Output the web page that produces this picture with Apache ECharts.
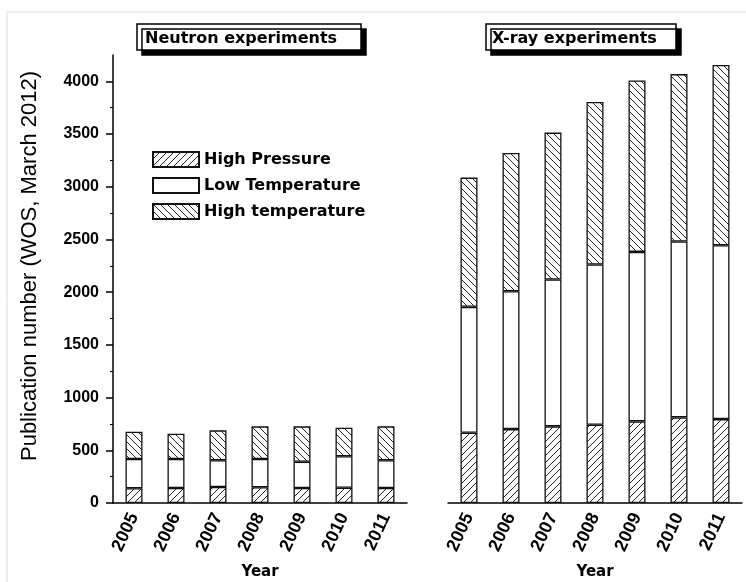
<!DOCTYPE html>
<html>
<head>
<meta charset="utf-8">
<script src="https://cdn.jsdelivr.net/npm/echarts@6/dist/echarts.min.js"></script>
<style>html,body{margin:0;padding:0;background:#fff}#c{width:746px;height:582px}</style>
</head>
<body>
<div id="c"></div>
<script>
// ---- data ----
const years = ['2005', '2006', '2007', '2008', '2009', '2010', '2011'];
const seriesNames = ['High Pressure', 'Low Temperature', 'High temperature'];
const neutronHP = [140, 142, 152, 150, 143, 145, 142];
const neutronLT = [277, 275, 253, 267, 248, 298, 263];
const neutronHT = [259, 240, 284, 310, 336, 271, 322];
const xrayHP = [666, 701, 727, 742, 774, 812, 796];
const xrayLT = [1195, 1308, 1393, 1521, 1608, 1669, 1649];
const xrayHT = [1226, 1311, 1394, 1541, 1627, 1588, 1710];
const yTickValues = [0, 500, 1000, 1500, 2000, 2500, 3000, 3500, 4000];
const panelTitles = ['Neutron experiments', 'X-ray experiments'];
const yAxisTitle = 'Publication number (WOS, March 2012)';
const xAxisTitle = 'Year';

function hatch(dir) {
  const s = 7;
  const c = document.createElement('canvas');
  c.width = s; c.height = s;
  const g = c.getContext('2d');
  g.fillStyle = '#fff'; g.fillRect(0, 0, s, s);
  g.strokeStyle = '#222'; g.lineWidth = 1;
  g.beginPath();
  if (dir > 0) {
    g.moveTo(0, s); g.lineTo(s, 0);
    g.moveTo(-1, 1); g.lineTo(1, -1);
    g.moveTo(s - 1, s + 1); g.lineTo(s + 1, s - 1);
  } else {
    g.moveTo(0, 0); g.lineTo(s, s);
    g.moveTo(s - 1, -1); g.lineTo(s + 1, 1);
    g.moveTo(-1, s - 1); g.lineTo(1, s + 1);
  }
  g.stroke();
  return c;
}
const fills = [
  { image: hatch(1), repeat: 'repeat' },
  '#ffffff',
  { image: hatch(-1), repeat: 'repeat' }
];

const chart = echarts.init(document.getElementById('c'), null, { renderer: 'canvas' });

const axisFont = { color: '#000', fontFamily: 'Liberation Sans', fontWeight: 'bold', fontSize: 16 };
const nameFont = { color: '#000', fontFamily: 'DejaVu Sans', fontWeight: 'bold', fontSize: 15 };
const lineStyle = { color: '#000', width: 1.5 };

function xAxis(i) {
  return {
    gridIndex: i, type: 'category', data: years,
    name: xAxisTitle, nameLocation: 'middle', nameGap: 62, nameTextStyle: nameFont,
    axisLine: { lineStyle: lineStyle },
    axisTick: { alignWithLabel: true, length: 9, lineStyle: lineStyle },
    axisLabel: Object.assign({ rotate: 65, margin: 11, interval: 0 }, axisFont, { fontSize: 18 })
  };
}
function yAxis(i, show) {
  return {
    gridIndex: i, type: 'value', min: 0, max: 4250, interval: 500,
    show: show,
    axisLine: { show: true, lineStyle: lineStyle },
    axisTick: { show: true, length: 7, lineStyle: lineStyle, customValues: yTickValues },
    minorTick: { show: true, splitNumber: 2, length: 3, lineStyle: { color: '#000', width: 1 } },
    splitLine: { show: false },
    axisLabel: Object.assign({ margin: 14, customValues: yTickValues, formatter: function (v) { return String(v); } }, axisFont)
  };
}
const seriesData = [[neutronHP, neutronLT, neutronHT], [xrayHP, xrayLT, xrayHT]];
const series = [];
for (let p = 0; p < 2; p++) {
  for (let k = 0; k < 3; k++) {
    series.push({
      type: 'bar', name: seriesNames[k], xAxisIndex: p, yAxisIndex: p,
      stack: 'panel' + p, barWidth: 17,
      itemStyle: { color: fills[k], borderColor: '#111', borderWidth: 1.3 },
      emphasis: { disabled: true },
      data: seriesData[p][k]
    });
  }
}
const titleBase = {
  backgroundColor: '#fff', borderColor: '#000', borderWidth: 1.5,
  shadowColor: '#000', shadowBlur: 0, shadowOffsetX: 5, shadowOffsetY: 5,
  textStyle: { color: '#000', fontFamily: 'DejaVu Sans', fontWeight: 'bold', fontSize: 16, lineHeight: 18 }
};
chart.setOption({
  animation: false,
  backgroundColor: '#fff',
  title: [
    Object.assign({ text: panelTitles[0], left: 137, top: 24, padding: [6, 24, 2, 8] }, titleBase),
    Object.assign({ text: panelTitles[1], left: 486, top: 24, padding: [6, 19, 2, 6] }, titleBase)
  ],
  legend: {
    data: seriesNames, orient: 'vertical', left: 147, top: 146,
    icon: 'rect',
    itemWidth: 46, itemHeight: 15, itemGap: 9,
    textStyle: { color: '#000', fontFamily: 'DejaVu Sans', fontWeight: 'bold', fontSize: 16 },
    selectedMode: false
  },
  grid: [
    { left: 113, top: 55, width: 294, height: 448, outerBoundsMode: 'none' },
    { left: 448, top: 55, width: 294, height: 448, outerBoundsMode: 'none' }
  ],
  xAxis: [xAxis(0), xAxis(1)],
  yAxis: [yAxis(0, true), yAxis(1, false)],
  series: series,
  graphic: [
    { type: 'rect', silent: true, z: -10, shape: { x: 7, y: 12, width: 900, height: 900 }, style: { fill: 'none', stroke: '#dcdcdc', lineWidth: 1 } },
    { type: 'text', x: 30, y: 266, rotation: Math.PI / 2,
      style: { text: yAxisTitle, fill: '#000', font: '22px "Liberation Sans"', textAlign: 'center', textVerticalAlign: 'middle' } }
  ]
});
</script>
</body>
</html>
